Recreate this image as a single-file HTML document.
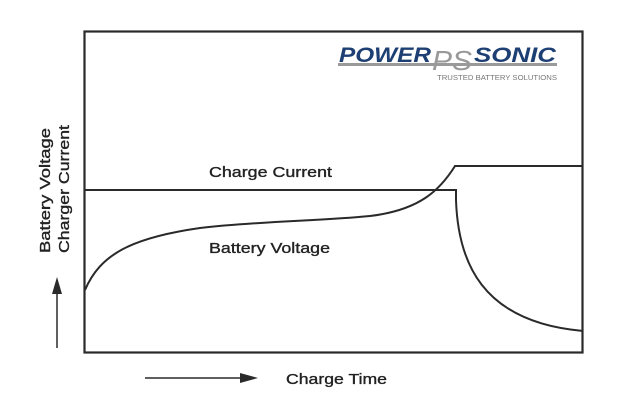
<!DOCTYPE html>
<html><head><style>
body{margin:0;background:#fff;width:623px;height:408px;overflow:hidden}
text{font-family:"Liberation Sans",Arial,sans-serif;fill:#222}
</style></head><body>
<svg width="623" height="408" viewBox="0 0 623 408" xmlns="http://www.w3.org/2000/svg">
<rect x="84.5" y="31.5" width="498" height="321" fill="none" stroke="#2a2a2a" stroke-width="2.2"/>
<g fill="none" stroke="#2a2a2a" stroke-width="2">
<path d="M85 190 H456 V200 C458 260 480 322 583 331"/>
<path d="M85 290 C100 255 130 238 200 228 C260 221 320 221 370 216 C420 210 440 190 455 166 H583"/>
<line x1="57" y1="348" x2="57" y2="290" stroke-width="1.5"/>
<line x1="145" y1="378" x2="245" y2="378" stroke-width="1.5"/>
</g>
<polygon points="57,277 52,294 62,294" fill="#2a2a2a"/>
<polygon points="258,378 240,373 240,383" fill="#2a2a2a"/>
<g font-size="15" stroke="#222" stroke-width="0.35">
<text x="209" y="177" textLength="123" lengthAdjust="spacingAndGlyphs">Charge Current</text>
<text x="209" y="253" textLength="121" lengthAdjust="spacingAndGlyphs">Battery Voltage</text>
<text x="286" y="384" textLength="101" lengthAdjust="spacingAndGlyphs">Charge Time</text>
<text transform="translate(50,253) rotate(-90)" textLength="125" lengthAdjust="spacingAndGlyphs">Battery Voltage</text>
<text transform="translate(69,253) rotate(-90)" textLength="128" lengthAdjust="spacingAndGlyphs">Charger Current</text>
</g>
<!-- logo -->
<rect x="338" y="63" width="219" height="3" fill="#9a9a9a"/>
<text x="339" y="62" font-size="21" font-weight="bold" font-style="italic" style="fill:#1d3f73" textLength="92" lengthAdjust="spacingAndGlyphs">POWER</text>
<text x="432" y="70" font-size="28" font-style="italic" style="fill:#999" textLength="40" lengthAdjust="spacingAndGlyphs">PS</text>
<text x="474" y="62" font-size="21" font-weight="bold" font-style="italic" style="fill:#1d3f73" textLength="82" lengthAdjust="spacingAndGlyphs">SONIC</text>
<text x="437" y="80" font-size="7.5" style="fill:#777" textLength="120" lengthAdjust="spacingAndGlyphs">TRUSTED BATTERY SOLUTIONS</text>
</svg>
</body></html>
